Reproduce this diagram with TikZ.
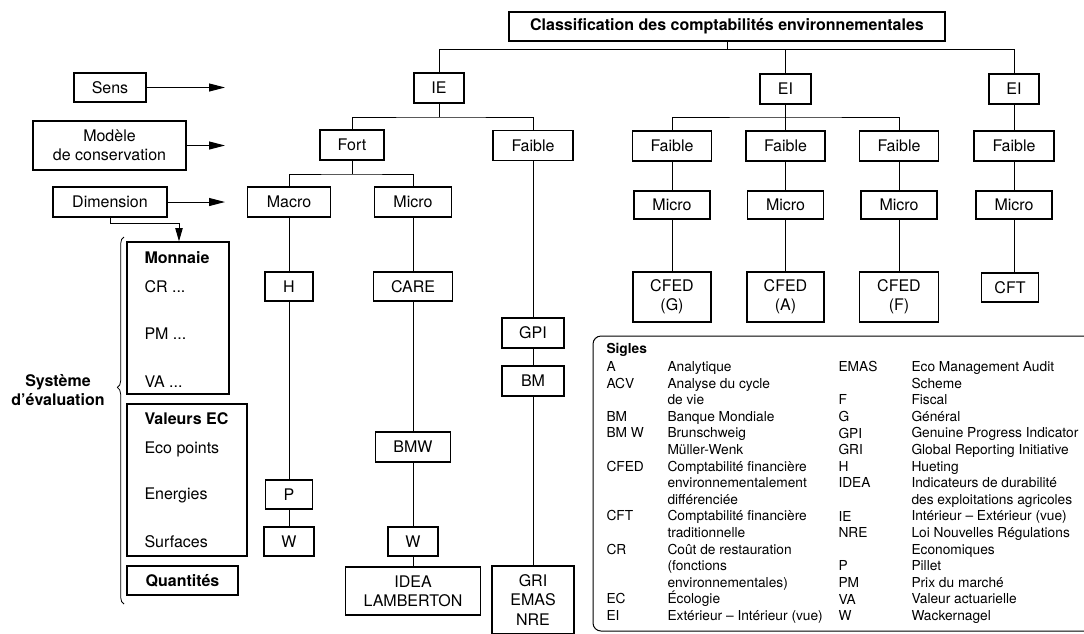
\documentclass[tikz,border=0pt]{standalone}
\usepackage{fontspec}
\setmainfont{TeX Gyre Heros}
\usepackage{tikz}
\usetikzlibrary{arrows.meta,decorations.pathreplacing,calc}

\begin{document}
\begin{tikzpicture}[x=0.75pt,y=0.75pt,yscale=-1,xscale=1,
  line width=0.75pt,
  node font=\fontsize{12}{14.5}\selectfont,
  bx/.style 2 args={draw,line width=0.9pt,inner sep=0pt,minimum width=#1*0.75pt,minimum height=#2*0.75pt},
  txt/.style={anchor=base west,inner sep=0pt},
  arr/.style={-{Triangle[length=12pt,width=6pt]}},
  arrb/.style={-{Triangle[length=10pt,width=5.5pt]}},
  sig/.style={anchor=north west,inner sep=0pt,align=left,font=\fontsize{10.3}{12.45}\selectfont}]
\useasboundingbox (0,0) rectangle (1084,633);

% Text Node
\node[bx={436}{29},font=\bfseries] (title) at (727,26.5) {Classification des comptabilités environnementales};

%Shape: Rectangle (left column)
\node[bx={72}{29}] (sens) at (110,87.5) {Sens};
\node[bx={153}{49},align=center] (modele) at (109.5,145.5) {Modèle\\de conservation};
\node[bx={114}{30}] (dimension) at (110,202) {Dimension};
\coordinate (arrEnd) at (225,0);
\coordinate (dimBend) at (179,223);

%Straight Lines
\draw[arr] (sens.east) -- (sens.east -| arrEnd);
\draw[arr] (modele.east) -- (modele.east -| arrEnd);
\draw[arr] (dimension.east) -- (dimension.east -| arrEnd);

%Shape: Rectangle (evaluation)
\node[bx={102}{152}] (monnaie) at (178,318) {};
\node[bx={120}{152}] (valeurs) at (187,480) {};
\node[bx={111}{29},font=\bfseries] (quantites) at (182.5,580.5) {Quantités};
\draw[arrb] (dimension.south) |- (dimBend) -- (dimBend |- monnaie.north);

% Text Node
\node[txt,font=\bfseries] (monT) at (144,263) {Monnaie};
\node[txt] (monCR) at (144,292) {CR ...};
\node[txt] (monPM) at (144,339) {PM ...};
\node[txt] (monVA) at (144,387) {VA ...};
\node[txt,font=\bfseries] (valT) at (144,424) {Valeurs EC};
\node[txt] (valEco) at (144,453) {Eco points};
\node[txt] (valEn) at (144,499) {Energies};
\node[txt] (valSu) at (144,547) {Surfaces};

%Curve Lines (brace)
\draw[line width=0.6pt,decorate,decoration={brace,amplitude=5pt,aspect=0.59}] (124,604) -- (124,237);
% Text Node
\node[font=\bfseries,align=center,inner sep=0pt] (systeme) at (58,390) {Système\\d’évaluation};

%Shape: Rectangle (tree)
\node[bx={50}{30}] (IE) at (439,88) {IE};
\node[bx={51}{30}] (EIa) at (785.5,89) {EI};
\node[bx={50}{30}] (EIb) at (1014,89) {EI};

\node[bx={64}{30}] (fort) at (352,145) {Fort};
\node[bx={80}{30}] (faibleA) at (533,145.5) {Faible};
\node[bx={79}{30}] (faibleB) at (672,146) {Faible};
\node[bx={79}{30}] (faibleC) at (785.5,146) {Faible};
\node[bx={79}{30}] (faibleD) at (899,146) {Faible};
\node[bx={80}{30}] (faibleE) at (1014,146) {Faible};

\node[bx={83}{30}] (macro) at (289,202) {Macro};
\node[bx={77}{30}] (microA) at (413,202) {Micro};
\node[bx={76}{28}] (microB) at (672,205) {Micro};
\node[bx={76}{28}] (microC) at (785.5,205) {Micro};
\node[bx={76}{28}] (microD) at (899,205) {Micro};
\node[bx={76}{28}] (microE) at (1014,205) {Micro};

\node[bx={48}{29}] (H) at (289,286.5) {H};
\node[bx={47}{29}] (P) at (289,494.5) {P};
\node[bx={50}{29}] (Wa) at (289,541.5) {W};

\node[bx={79}{29}] (CARE) at (413,286.5) {CARE};
\node[bx={75}{30}] (BMW) at (413,447) {BMW};
\node[bx={50}{29}] (Wb) at (413,541.5) {W};
\node[bx={135}{48},align=center] (IDEA) at (413,591) {IDEA\\LAMBERTON};

\node[bx={62}{30}] (GPI) at (533,333) {GPI};
\node[bx={62}{30}] (BM) at (533,381) {BM};
\node[bx={82}{68},align=center] (GRI) at (533,600) {GRI\\EMAS\\NRE};

\node[bx={78}{50},align=center] (CFEDg) at (672,297) {CFED\\(G)};
\node[bx={77}{50},align=center] (CFEDa) at (785.5,297) {CFED\\(A)};
\node[bx={79}{50},align=center] (CFEDf) at (899,297) {CFED\\(F)};
\node[bx={57}{29}] (CFT) at (1010,287.5) {CFT};

%Straight Lines (tree)
\coordinate (topBus) at (727,49.5);
\coordinate (ieBus) at (439,117);
\coordinate (eiBus) at (785.5,117);
\coordinate (fortBus) at (352,174);
\draw (title.south) -- (title.south |- topBus);
\draw (IE.north) |- (EIb.north |- topBus) -- (EIb.north);
\draw (EIa.north) -- (EIa.north |- topBus);
\draw (IE.south) -- (ieBus);
\draw (fort.north) |- (ieBus) -| (faibleA.north);
\draw (EIa) -- (faibleC);
\draw (faibleB.north) |- (eiBus) -| (faibleD.north);
\draw (EIb) -- (faibleE);
\draw (fort.south) -- (fortBus);
\draw (macro.north) |- (fortBus) -| (microA.north);
\draw (macro) -- (H) -- (P) -- (Wa);
\draw (microA) -- (CARE) -- (BMW) -- (Wb) -- (IDEA);
\draw (faibleA) -- (GPI) -- (BM) -- (GRI);
\draw (faibleB) -- (microB) -- (CFEDg);
\draw (faibleC) -- (microC) -- (CFEDa);
\draw (faibleD) -- (microD) -- (CFEDf);
\draw (faibleE) -- (microE);
\draw (microE.south) -- (microE.south |- CFT.north);

%Shape: Rectangle (sigles)
\draw[rounded corners=6pt] (593,336) rectangle (1110,631);
% Text Node
\node[txt,font=\bfseries\fontsize{10.3}{12.45}\selectfont] (sigles) at (606,353) {Sigles};
\node[sig] (sigA) at (606,361) {A\\ACV\\\mbox{}\\BM\\BM W\\\mbox{}\\CFED\\\mbox{}\\\mbox{}\\CFT\\\mbox{}\\CR\\\mbox{}\\\mbox{}\\EC\\EI};
\node[sig] (sigB) at (667,361) {Analytique\\Analyse du cycle\\de vie\\Banque Mondiale\\Brunschweig\\Müller-Wenk\\Comptabilité financière\\environnementalement\\différenciée\\Comptabilité financière\\traditionnelle\\Coût de restauration\\(fonctions\\environnementales)\\Écologie\\Extérieur – Intérieur (vue)};
\node[sig] (sigC) at (838,361) {EMAS\\\mbox{}\\F\\G\\GPI\\GRI\\H\\IDEA\\\mbox{}\\IE\\NRE\\\mbox{}\\P\\PM\\VA\\W};
\node[sig] (sigD) at (911,361) {Eco Management Audit\\Scheme\\Fiscal\\Général\\Genuine Progress Indicator\\Global Reporting Initiative\\Hueting\\Indicateurs de durabilité\\des exploitations agricoles\\Intérieur – Extérieur (vue)\\Loi  Nouvelles Régulations\\Economiques\\Pillet\\Prix du marché\\Valeur actuarielle\\Wackernagel};

\end{tikzpicture}
\end{document}
